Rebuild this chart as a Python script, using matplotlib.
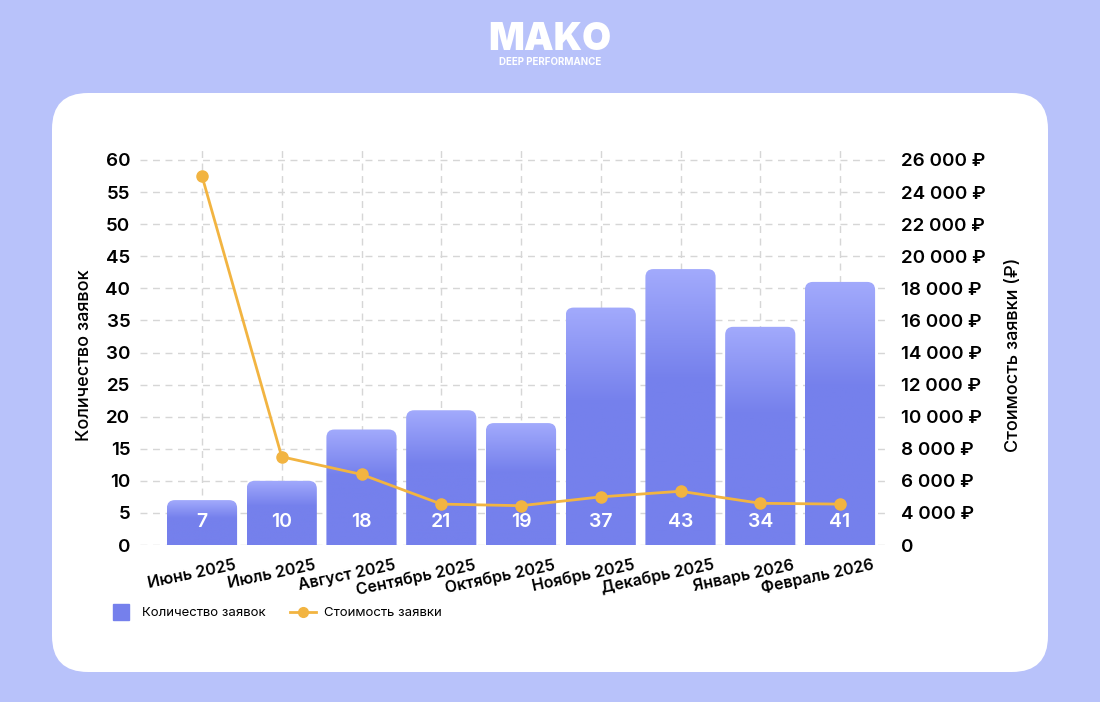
import numpy as np
import matplotlib
matplotlib.use('Agg')
import matplotlib.pyplot as plt
from matplotlib.patches import FancyBboxPatch
from matplotlib.colors import LinearSegmentedColormap
from matplotlib.lines import Line2D
from matplotlib.transforms import IdentityTransform, ScaledTranslation

plt.rcParams['font.family'] = ['Inter', 'DejaVu Sans']

# data
months = ['Июнь 2025', 'Июль 2025', 'Август 2025', 'Сентябрь 2025', 'Октябрь 2025',
          'Ноябрь 2025', 'Декабрь 2025', 'Январь 2026', 'Февраль 2026']
leads = [7, 10, 18, 21, 19, 37, 43, 34, 41]
cost = [25000, 7500, 6400, 4550, 4450, 5000, 5350, 4600, 4550]
left_ticks = list(range(0, 65, 5))
right_ticks = list(range(2000, 28000, 2000))
right_tick_labels = ['0', '4 000 ₽', '6 000 ₽', '8 000 ₽', '10 000 ₽', '12 000 ₽', '14 000 ₽',
                     '16 000 ₽', '18 000 ₽', '20 000 ₽', '22 000 ₽', '24 000 ₽', '26 000 ₽']

W, H = 1100, 702
bg = '#B8C2FA'
bar_dark = '#7580EC'
bar_light = '#A2AAFC'
line_col = '#F2B441'
grid_col = '#D6D6D6'

fig = plt.figure(figsize=(W / 100, H / 100), dpi=100)
fig.patch.set_facecolor(bg)

# white card
card = FancyBboxPatch((52, H - 672), 996, 579, boxstyle='round,pad=0,rounding_size=36',
                      transform=IdentityTransform(), facecolor='white', edgecolor='none', zorder=-10)
fig.patches.append(card)

# logo
fig.text(550 / W, 1 - 40 / H, 'MAKO', color='white', fontsize=27, fontweight='black',
         ha='center', va='center')
fig.text(550 / W, 1 - 62 / H, 'DEEP PERFORMANCE', color='white', fontsize=7, fontweight='bold',
         ha='center', va='center')

ax_l, ax_r, ax_b, ax_t = 140, 888, 545, 148
ax = fig.add_axes([ax_l / W, 1 - ax_b / H, (ax_r - ax_l) / W, (ax_b - ax_t) / H])
ax.patch.set_alpha(0)

px_x = 79.75          # pixels per category
px_y = 385 / 60       # pixels per lead unit
xlim = ((ax_l - 202) / px_x, (ax_r - 202) / px_x)
ylim = (0, (ax_b - ax_t) / px_y)

x = np.arange(len(months))
bw = 0.88
cmap = LinearSegmentedColormap.from_list('bars', [bar_dark, bar_light])
t = np.linspace(0, 1, 200)
grad = np.clip((t - 0.6) / 0.4, 0, 1).reshape(-1, 1)
rad = 8 / px_x
for xi, v in zip(x, leads):
    patch = FancyBboxPatch((xi - bw / 2, -3), bw, v + 3,
                           boxstyle='round,pad=0,rounding_size=%f' % rad,
                           mutation_aspect=(1 / px_y) / (1 / px_x),
                           facecolor='none', edgecolor='none')
    ax.add_patch(patch)
    im = ax.imshow(grad, extent=[xi - bw / 2, xi + bw / 2, 0, v], origin='lower',
                   aspect='auto', cmap=cmap, vmin=0, vmax=1, zorder=2)
    im.set_clip_path(patch)
    ax.text(xi, 3.6, str(v), color='white', fontsize=14, fontweight='semibold',
            ha='center', va='center', zorder=4)

ax.set_xlim(*xlim)
ax.set_ylim(*ylim)
ax.set_yticks(left_ticks)
ax.set_xticks(x)
ax.set_xticklabels([])
# rotated month labels, right end placed a bit right of each tick
shift = ScaledTranslation(34 / 100, -20 / 100, fig.dpi_scale_trans)
for xi, m in zip(x, months):
    ax.text(xi, 0, m, transform=ax.get_xaxis_transform() + shift, rotation=12,
            rotation_mode='anchor', ha='right', va='center', fontsize=11.5,
            fontweight='semibold', clip_on=False)
ax.tick_params(axis='y', length=0, pad=7, labelsize=13.5)
ax.tick_params(axis='x', length=0)
for lab in ax.get_yticklabels():
    lab.set_fontweight('semibold')
ax.grid(True, color=grid_col, linestyle=(0, (5, 4)), linewidth=1)
ax.set_axisbelow(True)
for s in ax.spines.values():
    s.set_visible(False)
ax.set_ylabel('Количество заявок', fontsize=13, fontweight='medium')
ax.yaxis.set_label_coords((93 - ax_l) / (ax_r - ax_l), (ax_b - 355) / (ax_b - ax_t))

ax2 = ax.twinx()
ax2.plot(x, cost, color=line_col, linewidth=2, marker='o', markersize=8, zorder=5)
ax2.set_ylim(2000, 2000 + ylim[1] * 400)
ax2.set_yticks(right_ticks)
ax2.set_yticklabels(right_tick_labels)
ax2.tick_params(axis='y', length=0, pad=9, labelsize=13.5)
for lab in ax2.get_yticklabels():
    lab.set_fontweight('semibold')
for s in ax2.spines.values():
    s.set_visible(False)
ax2.set_ylabel('Стоимость заявки (₽)', fontsize=13, fontweight='medium')
ax2.yaxis.set_label_coords((1005 - ax_l) / (ax_r - ax_l), (ax_b - 355) / (ax_b - ax_t))

handles = [Line2D([], [], linestyle='none', marker='s', markersize=11, color=bar_dark),
           Line2D([], [], color=line_col, linewidth=2, marker='o', markersize=7)]
fig.legend(handles, ['Количество заявок', 'Стоимость заявки'], loc='center left',
           bbox_to_anchor=(96 / W, 1 - 613 / H), ncol=2, frameon=False, fontsize=9.5,
           handlelength=2, columnspacing=1.8, handletextpad=0.6)

fig.savefig('out.png', dpi=100, facecolor=bg)
